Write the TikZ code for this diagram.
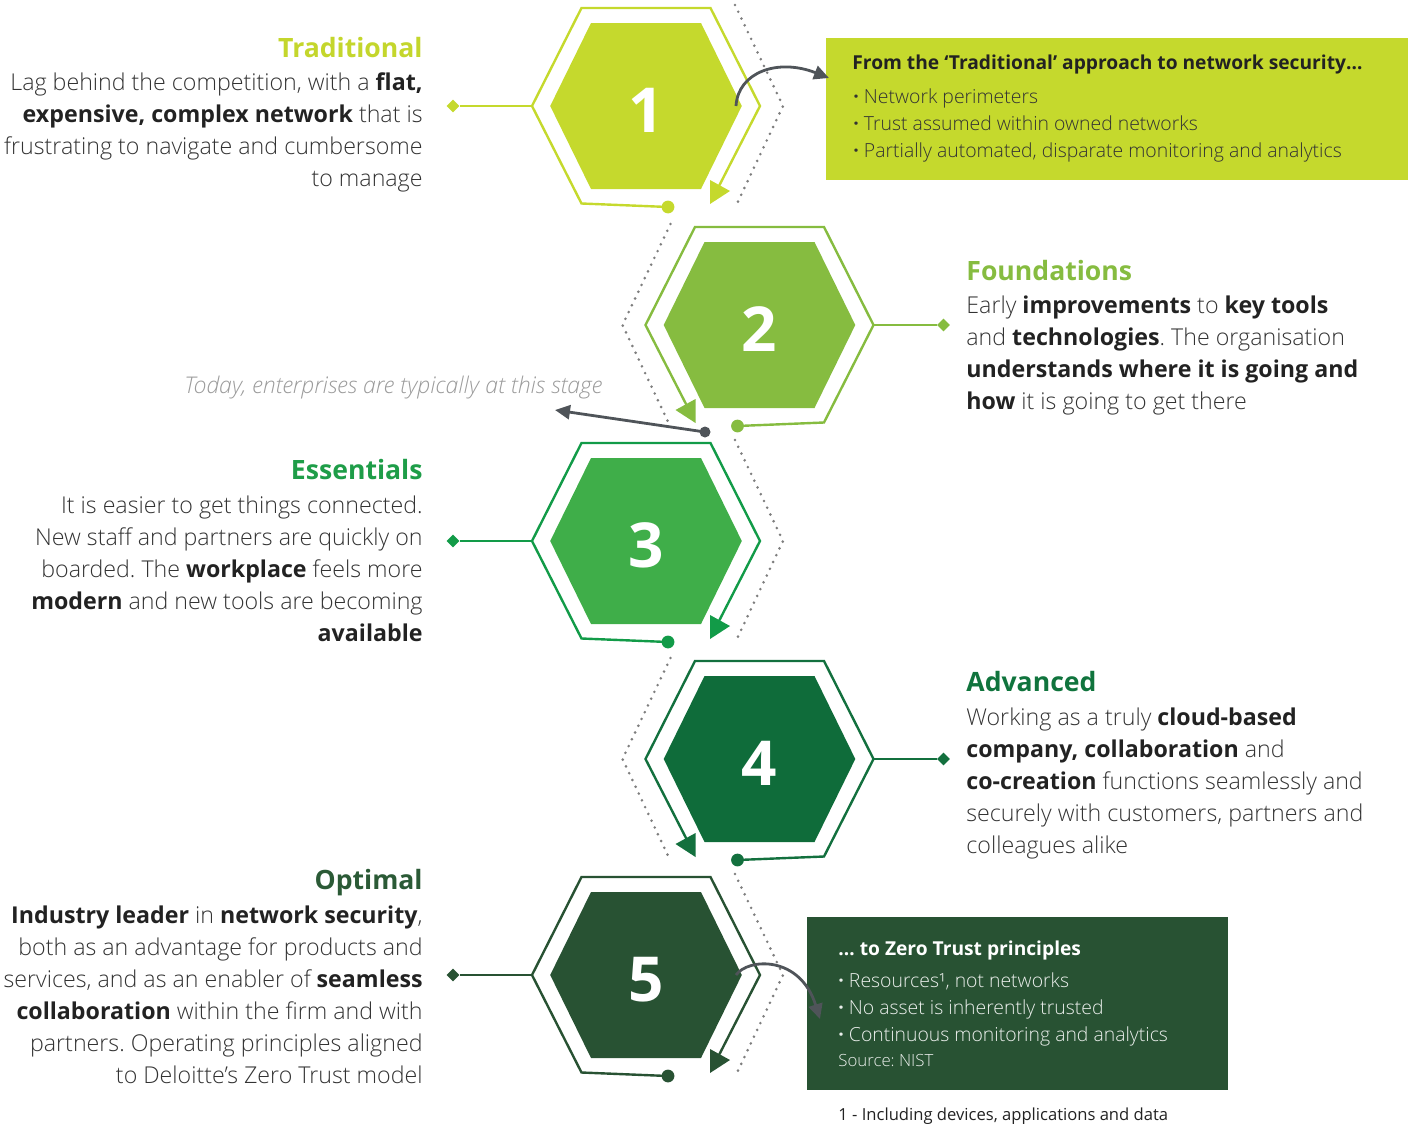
\documentclass[tikz,border=0pt]{standalone}
\usepackage{fontspec}
\IfFontExistsTF{Open Sans Light}{%
  \setmainfont{Open Sans}[UprightFont={* Light}, ItalicFont={* Light Italic}, BoldFont={* Bold}]}{%
  \setmainfont{Open Sans}}
\newfontface\heavyface{Open Sans Bold}
\newfontface\bookface{Open Sans}
\usetikzlibrary{arrows.meta,shapes.geometric}
\frenchspacing

\definecolor{limeG}{HTML}{C5D92D}
\definecolor{leafG}{HTML}{86BC40}
\definecolor{grassG}{HTML}{3FAE49}
\definecolor{grassL}{HTML}{129B48}
\definecolor{forestG}{HTML}{0F6C3A}
\definecolor{forestL}{HTML}{13703E}
\definecolor{pineG}{HTML}{285233}
\definecolor{limeT}{HTML}{C4D62C}
\definecolor{leafT}{HTML}{86BC40}
\definecolor{grassT}{HTML}{1E9D48}
\definecolor{forestT}{HTML}{10743D}
\definecolor{pineT}{HTML}{2B5A36}
\definecolor{txt}{HTML}{333333}
\definecolor{txtb}{HTML}{222222}
\definecolor{pointer}{HTML}{4F5459}
\definecolor{dotgray}{HTML}{7E7E7E}
\definecolor{todaygray}{HTML}{9B9B9B}

\newcommand\hb[1]{{\bfseries\color{txtb}#1}}

\tikzset{
  dotchevron/.style={dotgray, line width=1.45pt, line cap=round, dash pattern=on 0pt off 3.75pt},
  hexdot/.style={circle, inner sep=0pt, minimum size=6.4pt},
  tipdia/.style={diamond, inner sep=0pt, minimum size=6.6pt},
  hexline/.style={line width=1.2pt, line join=miter},
  numtxt/.style={text=white, font=\bfseries\fontsize{31}{31}\selectfont, inner sep=0pt},
  pointerline/.style={pointer, line width=1.4pt},
  pointertip/.style={-{Triangle[length=7.5pt,width=7pt]}},
  stagetitle/.style={font=\bfseries\fontsize{13.3}{16}\selectfont, inner sep=0pt},
  bodytxt/.style={font=\fontsize{11.6}{16}\selectfont, text=txt, inner sep=0pt},
  boxhead/.style={font=\bfseries\fontsize{9.6}{13.5}\selectfont, inner sep=0pt},
  boxitem/.style={font=\fontsize{9.7}{13.5}\selectfont, inner sep=0pt, align=left},
}

% #1 stage number, #2/#3 centre, #4 fill, #5 line colour, #6 side (1 or -1), #7 diamond offset
\newcommand\stagehex[7]{%
  \begin{scope}[shift={(#2,#3)}, xscale=#6]
    \draw[dotchevron] (89,-101) -- (137,0) -- (89,102);
    \fill[#4] (-95.8,0) -- (-55,-83) -- (55,-83) -- (95.8,0) -- (55,83) -- (-55,83) -- cycle;
    \node[hexdot, fill=#5] (h#1-dot) at (22,101) {};
    \coordinate (h#1-v) at (-114,0);
    \coordinate (h#1-src) at (90,0);
    \node[tipdia, fill=#5] (h#1-dia) at (-#7,0) {};
    \draw[hexline, #5] (h#1-dot.center) -- (-64.5,97.5) -- (h#1-v) -- (-64.5,-98)
      -- (64.5,-98) -- (114,0) -- (73,80);
    \fill[#5] (64,74) -- (84,85) -- (64,98) -- cycle;
    \draw[hexline, #5] (h#1-v) -- (h#1-dia);
    \node[numtxt, anchor=base] (h#1-num) at (0,26) {#1};
  \end{scope}}

\begin{document}
\begin{tikzpicture}[x=0.5pt, y=-0.5pt]
\useasboundingbox (0,0) rectangle (1408,1124);

% the five stages
\stagehex{1}{646}{106}{limeG}{limeG}{1}{193}
\stagehex{2}{759.5}{325}{leafG}{leafG}{-1}{184}
\stagehex{3}{646}{541}{grassG}{grassL}{1}{193}
\stagehex{4}{759.5}{759}{forestG}{forestL}{-1}{184}
\stagehex{5}{646}{975}{pineG}{pineG}{1}{193}

% stage descriptions, left column
\node[stagetitle, text=limeT, anchor=base east] (t1) at (423,57) {Traditional};
\node[bodytxt, align=right, anchor=north east] (p1) at (423,67.6) {\strut Lag behind the competition, with a \hb{flat,}\\
\hb{expensive, complex network} that is\\
frustrating to navigate and cumbersome\\
to manage};

\node[stagetitle, text=grassT, anchor=base east] (t3) at (423,479) {Essentials};
\node[bodytxt, align=right, anchor=north east] (p3) at (423,490.6) {\strut It is easier to get things connected.\\
New staff and partners are quickly on\\
boarded. The \hb{workplace} feels more\\
\hb{modern} and new tools are becoming\\
\hb{available}};

\node[stagetitle, text=pineT, anchor=base east] (t5) at (423,889) {Optimal};
\node[bodytxt, align=right, anchor=north east] (p5) at (423,900.6) {\strut\hb{Industry leader} in \hb{network security},\\
both as an advantage for products and\\
services, and as an enabler of \hb{seamless}\\
\hb{collaboration} within the firm and with\\
partners. Operating principles aligned\\
to Deloitte’s Zero Trust model};

% stage descriptions, right column
\node[stagetitle, text=leafT, anchor=base west] (t2) at (966,280) {Foundations};
\node[bodytxt, align=left, anchor=north west] (p2) at (966,290.6) {\strut Early \hb{improvements} to \hb{key tools}\\
and \hb{technologies}. The organisation\\
\hb{understands where it is going and}\\
\hb{how} it is going to get there};

\node[stagetitle, text=forestT, anchor=base west] (t4) at (966,691) {Advanced};
\node[bodytxt, align=left, anchor=north west] (p4) at (966,702.6) {\strut Working as a truly \hb{cloud-based}\\
\hb{company, collaboration} and\\
\hb{co-creation} functions seamlessly and\\
securely with customers, partners and\\
colleagues alike};

% current position marker
\node[anchor=base west, font=\itshape\fontsize{11.5}{12}\selectfont, text=todaygray, inner sep=0pt] (today) at (184,393) {Today, enterprises are typically at this stage};
\node[circle, fill=pointer, inner sep=0pt, minimum size=5.5pt] (today-dot) at (705,432) {};
\coordinate (today-tip) at (555,410);
\draw[pointerline, pointertip] (today-dot.center) -- (today-tip);

% from / to boxes
\node[fill=limeG, inner sep=0pt, minimum width=291pt, minimum height=71pt, anchor=north west] (box1) at (826,38) {};
\node[boxhead, text=txtb, anchor=base west] (box1-head) at (852,69) {From the ‘Traditional’ approach to network security…};
\node[boxitem, text=txt, anchor=north west] (box1-list) at (853,84.6) {\strut{\heavyface·} Network perimeters\\
{\heavyface·} Trust assumed within owned networks\\
{\heavyface·} Partially automated, disparate monitoring and analytics};

\node[fill=pineG, inner sep=0pt, minimum width=210.5pt, minimum height=86.5pt, anchor=north west] (box5) at (807,917) {};
\node[boxhead, text=white, anchor=base west] (box5-head) at (838,955) {… to Zero Trust principles};
\node[boxitem, text=white!90!pineG, anchor=north west] (box5-list) at (838,968.1) {\strut{\heavyface·} Resources¹, not networks\\
{\heavyface·} No asset is inherently trusted\\
{\heavyface·} Continuous monitoring and analytics};
\node[anchor=base west, font=\fontsize{8.4}{9}\selectfont, text=white!90!pineG, inner sep=0pt] (box5-src) at (838,1066) {Source: NIST};

\node[anchor=base west, font=\bookface\fontsize{8.3}{10}\selectfont, text=txtb, inner sep=0pt] (foot) at (838,1120) {1 - Including devices, applications and data};

% pointers into the boxes
\coordinate (box1-in) at (829,78);
\draw[pointerline, pointertip] (h1-src) .. controls (738,72) and (778,58) .. (box1-in);
\coordinate (box5-in) at (820,1019);
\draw[pointerline, pointertip] (h5-src) .. controls (748,958) and (800,955) .. (box5-in);

\end{tikzpicture}
\end{document}
